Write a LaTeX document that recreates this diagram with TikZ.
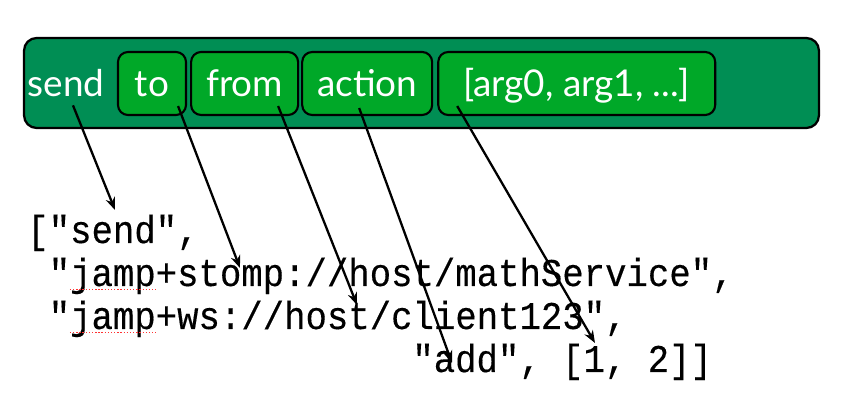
\documentclass[tikz,border=0pt]{standalone}
\usepackage{fontspec}
\setmainfont{Lato}
\newfontfamily\codefont[FakeBold=0.3]{Liberation Mono}
\usepackage{xcolor}
\usetikzlibrary{arrows.meta, positioning}

\definecolor{msgbg}{RGB}{0,142,84}
\definecolor{fieldbg}{RGB}{0,168,40}

\newcommand{\tallcode}[1]{\scalebox{1}[1.1]{#1}}

\begin{document}
\begin{tikzpicture}[
    x=0.02cm, y=-0.02cm,
    frame/.style={rectangle, draw=black, line width=1.3pt, rounded corners=0.25cm, fill=msgbg, minimum width=15.9cm, minimum height=1.8cm},
    fieldtxt/.style={text=white, inner sep=0pt, font=\fontsize{21}{25}\selectfont, text height=0.62cm, text depth=0.08cm},
    field/.style={fieldtxt, rectangle, draw=black, line width=1.2pt, rounded corners=0.2cm, fill=fieldbg, minimum height=1.26cm},
    code/.style={anchor=base west, inner sep=0pt, font=\codefont\fontsize{20.3}{24}\selectfont},
    arrow/.style={-{Stealth[length=0.25cm, width=0.19cm]}, line width=1.3pt},
    squiggle/.style={red!80, densely dotted, line width=0.8pt},
]
\useasboundingbox (0,0) rectangle (843,401);

% ===== Message frame =====
\node[frame] (msg) at (421.5,83) {};
\node[fieldtxt] (send) at (66,83.5) {send};

\node[field, minimum width=1.36cm] (to) at (152,83.5) {to};
\node[field, minimum width=2.14cm, right=0.06cm of to] (from) {from};
\node[field, minimum width=2.6cm, right=0.04cm of from] (action) {action};
\node[field, minimum width=5.54cm, right=0.08cm of action] (args) {[arg0, arg1, ...]};

% ===== JSON array =====
\node[code] (row1) at (27,243) {\tallcode{["send",}};
\node[code] (row2) at (48.4,286) {\tallcode{"jamp+stomp://host/mathService",}};
\node[code] (row3) at (48.4,329) {\tallcode{"jamp+ws://host/client123",}};
\node[code] (row4) at (412,372) {\tallcode{"add", [1, 2]]}};

% spell check marks
\draw[squiggle] ([shift={(21.4,3.5)}]row2.base west) -- ([shift={(107,3.5)}]row2.base west);
\draw[squiggle] ([shift={(21.4,3.5)}]row3.base west) -- ([shift={(107,3.5)}]row3.base west);

% ===== Arrows =====
\coordinate (tsend) at (115,210);
\coordinate (tto) at (240,268);
\coordinate (tfrom) at (357,305);
\coordinate (taction) at (452,363);
\coordinate (targs) at (595,343);

\draw[arrow] ([shift={(7,4)}]send.south) -- (tsend);
\draw[arrow] ([shift={(-9,-10)}]to.south east) -- (tto);
\draw[arrow] ([shift={(-21,-10)}]from.south east) -- (tfrom);
\draw[arrow] ([shift={(-8,-8)}]action.south) -- (taction);
\draw[arrow] ([shift={(20,-10)}]args.south west) -- (targs);

\end{tikzpicture}
\end{document}
